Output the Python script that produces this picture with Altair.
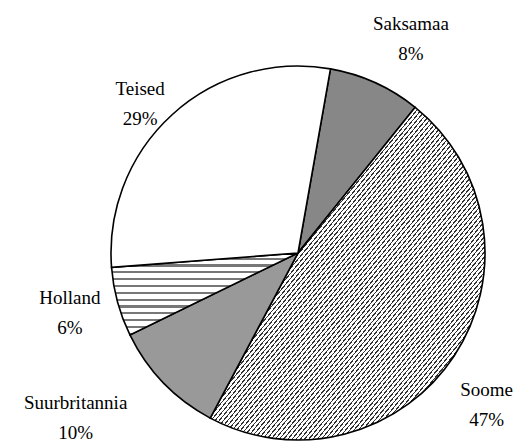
import math
import altair as alt
import pandas as pd

# ---- data ----
countries = ["Saksamaa", "Soome", "Suurbritannia", "Holland", "Teised"]
shares = [8, 47, 10, 6, 29]
order_idx = [0, 1, 2, 3, 4]

df = pd.DataFrame({"country": countries, "pct": shares, "idx": order_idx})

# ---- style / layout ----
START = math.radians(10)
CX, CY, R = 290, 245, 187

# label placement tweaks (degrees shift from slice middle, radius in px)
LABEL_SHIFT = {"Saksamaa": 3.4, "Soome": 5.4, "Suurbritannia": 7.4, "Holland": 0.4, "Teised": -4.5}
LABEL_RADIUS = {"Saksamaa": 242, "Soome": 242, "Suurbritannia": 277, "Holland": 236, "Teised": 217}


def lookup_expr(mapping, default=0):
    expr = str(default)
    for k, v in mapping.items():
        expr = f"(datum.country === '{k}' ? {v} : {expr})"
    return expr


def stripes(n, dark_frac, dark, light, x2, y2):
    stops = []
    for k in range(n):
        a = k / n
        b = (k + 1 - dark_frac) / n
        c = (k + 1) / n
        stops += [
            {"offset": round(a, 6), "color": light},
            {"offset": round(b, 6), "color": light},
            {"offset": round(b, 6), "color": dark},
            {"offset": round(c, 6), "color": dark},
        ]
    return {"gradient": "linear", "x1": 0, "y1": 0, "x2": x2, "y2": y2, "stops": stops}


soome_fill = stripes(131, 0.33, "#333333", "#ffffff", 1, 1)
holland_fill = stripes(12, 0.33, "#777777", "#ffffff", 0, 1)

fill = {
    "condition": [
        {"test": "datum.country === 'Soome'", "value": soome_fill},
        {"test": "datum.country === 'Holland'", "value": holland_fill},
        {"test": "datum.country === 'Saksamaa'", "value": "#878787"},
        {"test": "datum.country === 'Suurbritannia'", "value": "#999999"},
    ],
    "value": "#ffffff",
}

base = alt.Chart(df)

arcs = base.mark_arc(stroke="black", strokeWidth=1.6, radius=R).encode(
    theta=alt.Theta(
        "pct:Q",
        stack=True,
        scale=alt.Scale(domain=[0, 100], range=[START, START + 2 * math.pi]),
    ),
    order=alt.Order("idx:Q"),
    fill=fill,
    x=alt.value(CX),
    y=alt.value(CY),
)

labels = (
    base.transform_window(cum="sum(pct)", sort=[alt.SortField("idx")], frame=[None, 0])
    .transform_calculate(
        labelA=f"{START} + 2*PI*(datum.cum - datum.pct/2)/100 + ({lookup_expr(LABEL_SHIFT)})*PI/180",
        labelR=lookup_expr(LABEL_RADIUS, 240),
        label="datum.country + '|' + datum.pct + '%'",
    )
    .mark_text(
        font="Liberation Serif",
        fontSize=19,
        lineBreak="|",
        lineHeight=30,
        align="center",
        baseline="middle",
        dy=-15,
        color="black",
    )
    .encode(
        theta=alt.Theta("labelA:Q", scale=None, stack=False),
        radius=alt.Radius("labelR:Q", scale=None),
        text="label:N",
        x=alt.value(CX),
        y=alt.value(CY),
    )
)

chart = (
    alt.layer(arcs, labels)
    .resolve_scale(theta="independent")
    .properties(width=514, height=440, autosize=alt.AutoSizeParams(type="none"), padding=0, background="white")
    .configure_view(stroke=None)
)

chart.save("out.html", embed_options={"renderer": "svg", "actions": False})
